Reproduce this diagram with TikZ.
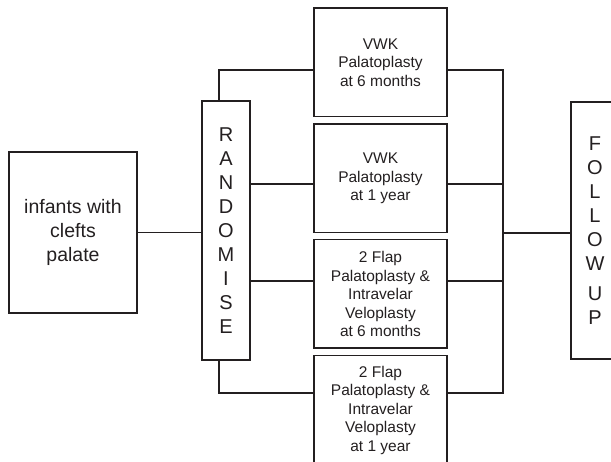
\documentclass[tikz,border=0pt]{standalone}
\usepackage{fontspec}
\setmainfont{Liberation Sans}
\definecolor{ink}{HTML}{231F20}
\begin{document}
\begin{tikzpicture}[x=1pt,y=-1pt,
  box/.style={draw=ink, line width=1.5pt, text=ink, align=center, inner sep=0pt},
  arm/.style={box, minimum width=133pt, minimum height=108.5pt,
              font=\fontsize{15.5}{18.5}\selectfont},
  tall/.style={box, minimum width=48pt, font=\fontsize{20}{24}\selectfont},
  wire/.style={draw=ink, line width=1.5pt, line join=miter}]
\clip (0,0) rectangle (611,462);
\useasboundingbox (0,0) rectangle (611,462);

% boxes
\node[box, minimum width=128pt, minimum height=161pt,
      font=\fontsize{19.5}{24}\selectfont] (inf) at (73,232.5)
      {infants with\\clefts\\palate};
\node[tall, minimum height=259pt] (rand) at (226,230.5)
      {R\\A\\N\\D\\O\\M\\I\\S\\E};
\node[arm] (t1) at (380.5,62.5) {VWK\\Palatoplasty\\at 6 months};
\node[arm] (t2) at (380.5,178.5) {VWK\\Palatoplasty\\at 1 year};
\node[arm] (t3) at (380.5,294) {2 Flap\\Palatoplasty \&\\Intravelar\\Veloplasty\\at 6 months};
\node[arm] (t4) at (380.5,410) {2 Flap\\Palatoplasty \&\\Intravelar\\Veloplasty\\at 1 year};
\node[tall, minimum height=257pt] (fu) at (595,230.5)
      {F\\O\\L\\L\\O\\W\\[6pt]U\\P};

% connector levels
\coordinate (y1) at (0,70);
\coordinate (y2) at (0,184);
\coordinate (y3) at (0,281);
\coordinate (y4) at (0,393);
\coordinate (yf) at (0,233);
\coordinate (bus) at (503,0);

% intake to randomisation
\draw[wire] (inf.east) -- (inf.east -| rand.west);

% randomisation to the four arms
\draw[wire] ([xshift=-7pt]rand.north) |- (t1.west |- y1);
\draw[wire] ([xshift=-7pt]rand.south) |- (t4.west |- y4);
\draw[wire] (rand.east |- y2) -- (t2.west |- y2);
\draw[wire] (rand.east |- y3) -- (t3.west |- y3);

% arms to follow up
\draw[wire] (t1.east |- y1) -- (bus |- y1) -- (bus |- y4) -- (t4.east |- y4);
\draw[wire] (t2.east |- y2) -- (bus |- y2);
\draw[wire] (t3.east |- y3) -- (bus |- y3);
\draw[wire] (bus |- yf) -- (fu.west |- yf);
\end{tikzpicture}
\end{document}
